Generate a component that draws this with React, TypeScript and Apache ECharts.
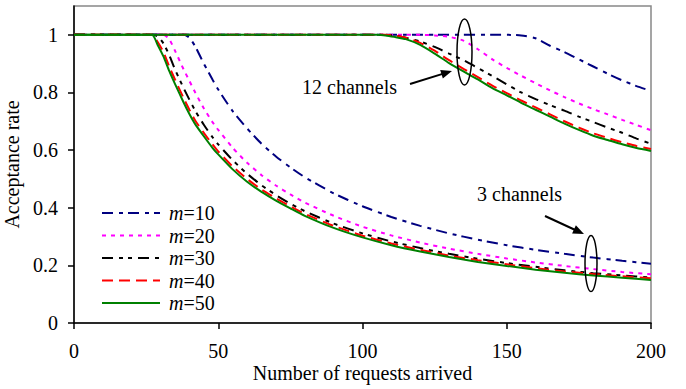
import React, { useEffect, useRef } from 'react';
import * as echarts from 'echarts';

// ---- data ----
const xs3ch = [0, 27, 29, 31, 33, 35, 38, 40, 42, 45, 48, 50, 55, 60, 65, 70, 75, 80, 90, 100, 110, 120, 130, 140, 150, 160, 170, 180, 190, 200];
const m10_3ch = [1, 1, 1, 1, 1, 1, 1, 0.99, 0.96, 0.9, 0.845, 0.81, 0.735, 0.675, 0.622, 0.578, 0.54, 0.506, 0.45, 0.405, 0.368, 0.337, 0.311, 0.289, 0.27, 0.254, 0.24, 0.227, 0.216, 0.206];
const m20_3ch = [1, 1, 1, 1, 0.985, 0.945, 0.88, 0.84, 0.8, 0.745, 0.697, 0.67, 0.608, 0.556, 0.513, 0.477, 0.446, 0.418, 0.372, 0.334, 0.304, 0.279, 0.258, 0.24, 0.224, 0.21, 0.198, 0.187, 0.177, 0.169];
const m30_3ch = [1, 1, 0.995, 0.97, 0.93, 0.88, 0.815, 0.775, 0.737, 0.688, 0.645, 0.62, 0.565, 0.518, 0.478, 0.444, 0.414, 0.388, 0.345, 0.311, 0.283, 0.26, 0.24, 0.223, 0.208, 0.195, 0.183, 0.173, 0.165, 0.158];
const m40_3ch = [1, 1, 0.975, 0.94, 0.89, 0.845, 0.78, 0.74, 0.703, 0.66, 0.62, 0.595, 0.543, 0.5, 0.463, 0.433, 0.405, 0.379, 0.337, 0.303, 0.276, 0.254, 0.234, 0.218, 0.204, 0.19, 0.179, 0.17, 0.162, 0.155];
const m50_3ch = [1, 1, 0.965, 0.925, 0.875, 0.83, 0.765, 0.725, 0.69, 0.648, 0.608, 0.585, 0.533, 0.49, 0.455, 0.425, 0.398, 0.372, 0.33, 0.297, 0.27, 0.248, 0.229, 0.212, 0.198, 0.185, 0.174, 0.165, 0.157, 0.149];

const xs12ch = [0, 105, 108, 111, 115, 120, 125, 130, 135, 140, 145, 150, 155, 160, 165, 170, 175, 180, 185, 190, 195, 200];
const m10_12ch = [1, 1, 1, 1, 1, 1, 1, 1, 1, 1, 1, 1, 0.998, 0.988, 0.962, 0.94, 0.915, 0.89, 0.865, 0.842, 0.822, 0.805];
const m20_12ch = [1, 1, 1, 1, 1, 1, 0.998, 0.993, 0.98, 0.95, 0.915, 0.885, 0.858, 0.832, 0.807, 0.784, 0.762, 0.742, 0.724, 0.705, 0.687, 0.669];
const m30_12ch = [1, 1, 1, 0.998, 0.99, 0.977, 0.958, 0.935, 0.912, 0.885, 0.857, 0.828, 0.8, 0.777, 0.756, 0.737, 0.716, 0.697, 0.678, 0.66, 0.64, 0.622];
const m40_12ch = [1, 1, 1, 0.997, 0.99, 0.972, 0.945, 0.912, 0.882, 0.853, 0.824, 0.798, 0.772, 0.748, 0.724, 0.7, 0.678, 0.658, 0.642, 0.627, 0.614, 0.604];
const m50_12ch = [1, 1, 0.998, 0.993, 0.985, 0.965, 0.935, 0.902, 0.873, 0.845, 0.815, 0.79, 0.764, 0.74, 0.716, 0.692, 0.67, 0.65, 0.635, 0.62, 0.607, 0.597];

const seriesNames = ['m=10', 'm=20', 'm=30', 'm=40', 'm=50'];
const yTickValues = [0, 0.2, 0.4, 0.6, 0.8, 1];
const xAxisTitle = 'Number of requests arrived';
const yAxisTitle = 'Acceptance rate';
const label12 = '12 channels';
const label3 = '3 channels';

// ---- styles ----
const lineColors = ['#000080', '#FF00FF', '#000000', '#FF0000', '#008000'];
const lineDashes: any[] = [[11, 6, 4, 5], [4, 5], [11, 6, 4, 5, 4, 6], [11, 6], 'solid'];
const FONT = "'Liberation Serif', 'Times New Roman', serif";

function arrow(x1: number, y1: number, x2: number, y2: number) {
  const len = 11, w = 4.5;
  const dx = x2 - x1, dy = y2 - y1;
  const d = Math.sqrt(dx * dx + dy * dy);
  const ux = dx / d, uy = dy / d;
  const bx = x2 - ux * len, by = y2 - uy * len;
  return [
    { type: 'line', shape: { x1, y1, x2: bx + ux * 2, y2: by + uy * 2 }, style: { stroke: '#000', lineWidth: 2 } },
    {
      type: 'polygon',
      shape: { points: [[x2, y2], [bx - uy * w, by + ux * w], [bx + uy * w, by - ux * w]] },
      style: { fill: '#000' },
    },
  ];
}

export default function App() {
  const ref = useRef<HTMLDivElement>(null);
  useEffect(() => {
    if (!ref.current) return;
    const chart = echarts.init(ref.current, null, { renderer: 'svg' });
    const groups3 = [m10_3ch, m20_3ch, m30_3ch, m40_3ch, m50_3ch];
    const groups12 = [m10_12ch, m20_12ch, m30_12ch, m40_12ch, m50_12ch];
    const mk = (name: string, xs: number[], ys: number[], i: number) => ({
      type: 'line',
      name,
      data: xs.map((x, k) => [x, ys[k]]),
      showSymbol: false,
      symbol: 'none',
      smooth: 0.2,
      lineStyle: { color: lineColors[i], width: 2, type: lineDashes[i] },
      itemStyle: { color: lineColors[i] },
      z: 3 + i,
    });
    const series: any[] = [];
    seriesNames.forEach((n, i) => {
      series.push(mk(n, xs3ch, groups3[i], i));
      series.push(mk(n, xs12ch, groups12[i], i));
    });
    chart.setOption({
      animation: false,
      backgroundColor: '#fff',
      textStyle: { fontFamily: FONT },
      grid: {
        left: 74, right: 35, top: 6, bottom: 66,
        show: true, borderColor: '#888', borderWidth: 1.5,
        outerBoundsMode: 'none',
      },
      legend: {
        data: seriesNames,
        orient: 'vertical',
        left: 101,
        top: 203,
        itemWidth: 58,
        itemHeight: 14,
        itemGap: 2.5,
        padding: 0,
        itemStyle: { opacity: 0 },
        formatter: (name: string) => '{i|m}{t|' + name.slice(1) + '}',
        textStyle: {
          fontFamily: FONT, fontSize: 20, color: '#000', lineHeight: 18, padding: [0, 0, 0, 4],
          rich: {
            i: { fontStyle: 'italic', fontFamily: FONT, fontSize: 20, lineHeight: 18, color: '#000' },
            t: { fontFamily: FONT, fontSize: 20, lineHeight: 18, color: '#000' },
          },
        },
      },
      xAxis: {
        type: 'value', min: 0, max: 200, interval: 50,
        name: xAxisTitle, nameLocation: 'middle', nameGap: 40, nameMoveOverlap: false,
        nameTextStyle: { fontFamily: FONT, fontSize: 20, color: '#000' },
        axisLine: { lineStyle: { color: '#000', width: 1.5 } },
        axisTick: { show: true, length: 6, lineStyle: { color: '#000', width: 1.5 } },
        axisLabel: { fontFamily: FONT, fontSize: 20, color: '#000', margin: 18 },
        splitLine: { show: false },
      },
      yAxis: {
        type: 'value', min: 0, max: 1.1,
        name: yAxisTitle, nameLocation: 'middle', nameGap: 40,
        nameTextStyle: { fontFamily: FONT, fontSize: 20, color: '#000' },
        axisLine: { show: true, lineStyle: { color: '#000', width: 1.5 } },
        axisTick: { show: true, length: 6, customValues: yTickValues, lineStyle: { color: '#000', width: 1.5 } },
        axisLabel: {
          fontFamily: FONT, fontSize: 20, color: '#000', margin: 16,
          customValues: yTickValues, formatter: (v: number) => String(v),
        },
        splitLine: { show: false },
      },
      series,
      graphic: [
        { type: 'text', left: 302, top: 77, style: { text: label12, font: `20px ${FONT}`, fill: '#000' } },
        { type: 'text', left: 477, top: 184, style: { text: label3, font: `20px ${FONT}`, fill: '#000' } },
        { type: 'ellipse', shape: { cx: 464.5, cy: 52, rx: 7.5, ry: 33 }, style: { fill: 'none', stroke: '#000', lineWidth: 1.5 }, z: 10 },
        { type: 'ellipse', shape: { cx: 591, cy: 263.5, rx: 6, ry: 28 }, style: { fill: 'none', stroke: '#000', lineWidth: 1.5 }, z: 10 },
        ...arrow(410, 84, 452, 71),
        ...arrow(545, 216, 584, 234),
      ],
    });
    return () => chart.dispose();
  }, []);
  return (
    <div
      ref={ref}
      style={{ position: 'fixed', left: 0, top: 0, width: 686, height: 389, background: '#fff' }}
    />
  );
}
